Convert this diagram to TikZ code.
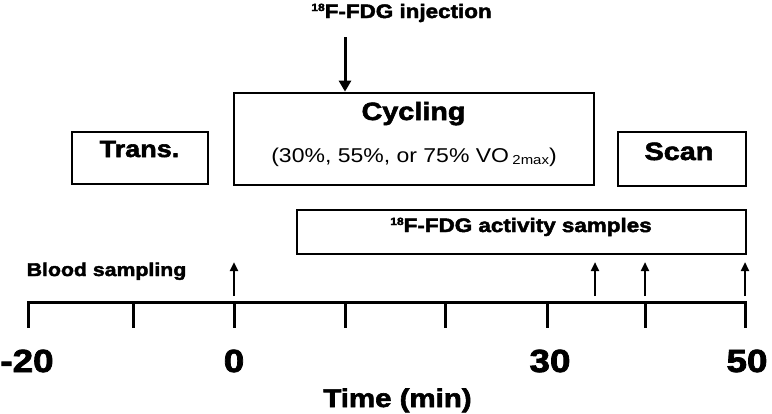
\documentclass[tikz,border=0pt]{standalone}
\usepackage{fontspec}
\setmainfont{Liberation Sans}[FakeStretch=1.15, BoldFeatures={FakeBold=2.4}]
\usetikzlibrary{arrows.meta}
\newcommand{\isoup}[1]{\raisebox{7pt}{\fontsize{10.5}{10.5}\selectfont #1}}
\begin{document}
\begin{tikzpicture}[x=1pt,y=-1pt,
  box/.style={draw,line width=2.7pt,inner sep=0pt},
  lbl/.style={inner sep=0pt,anchor=base,font=\bfseries},
  axisline/.style={line width=3pt},
  uparrow/.style={line width=2.6pt,-{Triangle[width=8pt,length=9pt]}},
  injarrow/.style={line width=3pt,-{Triangle[width=12pt,length=11pt]}}]
\useasboundingbox (0,0) rectangle (772,413);
% boxes
\node[box,minimum width=136pt,minimum height=52pt] (trans) at (140,158) {};
\node[box,minimum width=360pt,minimum height=92pt] (cyc) at (414,139) {};
\node[box,minimum width=128pt,minimum height=54pt] (scan) at (682,159) {};
\node[box,minimum width=449pt,minimum height=44pt] (act) at (521.5,232) {};
% box texts
\node[lbl,font=\bfseries\fontsize{23.5}{23.5}\selectfont] (transT) at (139.5,157) {Trans.};
\node[lbl,font=\bfseries\fontsize{25}{25}\selectfont] (cycT) at (413.5,120) {Cycling};
\node[lbl,font=\fontsize{20}{20}\selectfont] (cycS) at (414,162) {(30\%, 55\%, or 75\% VO\,\raisebox{-2pt}{\fontsize{13}{13}\selectfont 2max})};
\node[lbl,font=\bfseries\fontsize{25}{25}\selectfont] (scanT) at (679,160) {Scan};
\node[lbl,font=\bfseries\fontsize{19.5}{19.5}\selectfont] (actT) at (521,232) {\isoup{18}F-FDG activity samples};
% injection
\node[lbl,font=\bfseries\fontsize{19.5}{19.5}\selectfont] (inj) at (401.5,18) {\isoup{18}F-FDG injection};
\coordinate (injtop) at (345,37);
\draw[injarrow] (injtop) -- (injtop |- cyc.north);
% axis
\coordinate (a0) at (28,302);
\coordinate (a1) at (745,302);
\draw[axisline,line cap=rect] (a0) -- (a1);
\foreach \x/\n in {28/t1,133/t2,234/t3,345/t4,445/t5,547/t6,645/t7,745/t8}{
  \coordinate (\n) at (\x,302);
  \coordinate (\n b) at (\x,328);
  \draw[axisline] (\n) -- (\n b);
}
% tick labels
\node[lbl,font=\bfseries\fontsize{32}{32}\selectfont] (lm20) at (27,372) {-20};
\node[lbl,font=\bfseries\fontsize{32}{32}\selectfont] (l0) at (234,372) {0};
\node[lbl,font=\bfseries\fontsize{32}{32}\selectfont] (l30) at (550,372) {30};
\node[lbl,font=\bfseries\fontsize{32}{32}\selectfont] (l50) at (747,372) {50};
\node[lbl,font=\bfseries\fontsize{25.6}{25.6}\selectfont] (time) at (397.5,407) {Time (min)};
% blood sampling
\node[lbl,font=\bfseries\fontsize{18.5}{18.5}\selectfont] (blood) at (106.5,276) {Blood sampling};
\foreach \x/\n in {234/b1,595/b2,645/b3,745/b4}{
  \coordinate (\n s) at (\x,296);
  \coordinate (\n e) at (\x,262);
  \draw[uparrow] (\n s) -- (\n e);
}
\end{tikzpicture}
\end{document}
